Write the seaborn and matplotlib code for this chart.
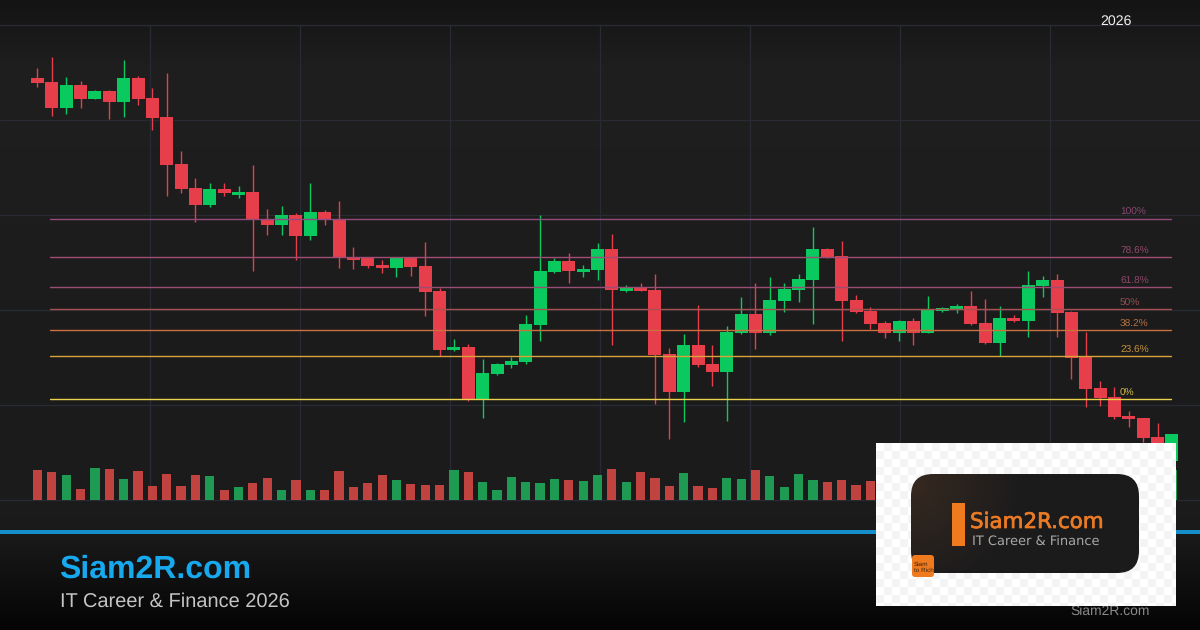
import numpy as np
import pandas as pd
import seaborn as sns
import matplotlib
matplotlib.use("Agg")
import matplotlib.pyplot as plt
import matplotlib.patheffects as pe
from matplotlib.colors import LinearSegmentedColormap
from matplotlib.patches import FancyBboxPatch, Rectangle

# ---- data (price units on an unlabelled scale; volume shares the baseline 0) ----
opens = [422,418,392,415,401,409,398,422,402,383,336,312,295,311,305,308,280,275,285,264,
         288,280,243,242,235,232,242,234,209,150,153,101,126,135,138,175,228,239,228,230,
         251,209,212,210,146,108,155,136,128,167,186,167,199,210,220,251,244,200,189,177,
         167,179,167,189,190,194,177,157,182,179,214,220,188,144,112,103,84,82,63,39]
closes = [417,392,415,401,409,398,422,401,382,335,311,295,311,307,308,280,275,285,264,288,
          280,242,240,234,232,242,233,208,150,153,101,127,136,139,176,229,239,229,231,251,
          210,212,209,145,108,155,135,128,168,186,167,200,211,221,251,242,199,188,176,167,
          179,167,190,192,194,176,157,182,179,215,220,187,142,111,102,83,81,62,50,66]
highs = [432,443,423,419,410,410,440,424,412,427,349,322,317,317,314,335,291,294,287,317,
         290,299,253,243,240,242,242,258,212,161,156,141,137,143,185,285,242,247,235,257,
         266,215,217,226,152,166,195,155,174,203,217,223,217,226,273,252,259,205,193,179,
         180,182,204,193,196,209,201,194,185,229,224,226,189,168,119,113,89,82,77,66]
lows = [413,384,386,392,401,381,383,395,370,304,307,278,293,304,302,229,265,265,240,260,
        275,232,231,232,227,223,224,184,144,149,99,82,125,132,136,159,227,217,223,220,
        155,208,209,96,61,78,133,114,79,166,151,165,188,198,176,242,159,187,171,162,
        159,155,167,188,187,175,156,144,178,163,203,163,121,93,94,81,73,58,45,39]
volumes = [30,28,25,11,32,31,21,29,14,26,14,25,24,10,13,17,22,10,20,10,
           10,29,13,17,25,20,16,15,15,30,28,18,10,23,18,17,21,20,19,25,
           31,18,28,22,14,27,14,12,22,21,30,24,13,26,20,18,20,15,19,20,
           18,22,24,16,14,20,26,18,12,28,17,22,30,32,24,26,18,27,28,30]
fib_names = ["100%", "78.6%", "61.8%", "50%", "38.2%", "23.6%", "0%"]
fib_levels = [281.2, 243.0, 213.0, 191.0, 170.0, 144.0, 101.0]
title = "Siam2R.com"
subtitle = "IT Career & Finance 2026"
year_label = "2026"
logo_sub = "IT Career & Finance"
badge = "Siam\nto Rich"

# ---- style ----
W, H = 1200, 630
UP, DOWN = "#0ac95e", "#e63e4a"
VOL_UP, VOL_DOWN = "#1f9a52", "#c0433f"
GRID = "#282b33"
fib_colors = ["#934a7c", "#a04c74", "#9c4d74", "#aa5050", "#cc7040", "#dca23a", "#ead24c"]
text_colors = ["#8a4872", "#93496c", "#8f4869", "#965050", "#b9703f", "#c6923a", "#d2bc48"]
X0, DX = 37.5, 14.36

sns.set_theme(style="dark")
plt.rcParams["font.family"] = ["Liberation Sans", "DejaVu Sans"]
plt.rcParams["text.hinting"] = "none"

fig = plt.figure(figsize=(W / 100, H / 100), dpi=100)


def full_ax(z):
    a = fig.add_axes([0, 0, 1, 1], zorder=z)
    a.set_facecolor("none")
    a.set_axis_off()
    return a


# background layer in figure pixels
bg = full_ax(0)
stops_y = [0, 25, 70, 300, 515, 534, 630]
stops_v = [0x14, 0x18, 0x1f, 0x1c, 0x1b, 0x1a, 0x04]
g = np.interp(np.arange(H), stops_y, stops_v) / 255
bg.imshow(np.stack([g, g, g * 1.01], axis=-1)[:, None, :].clip(0, 1), extent=(0, W, H, 0), aspect="auto")
for gy in range(25, 501, 95):
    bg.plot([0, W], [gy, gy], color=GRID, lw=0.9)
for gx in range(150, 1200, 150):
    bg.plot([gx, gx], [25, 500], color=GRID, lw=0.9)
bg.set_xlim(0, W)
bg.set_ylim(H, 0)

# chart layer: candle index on x, price on y
ax = full_ax(1)
n = len(opens)
df = pd.DataFrame({"idx": np.arange(n), "open": opens, "close": closes, "high": highs,
                   "low": lows, "volume": volumes})
df["dir"] = np.where(df["close"] >= df["open"], "up", "down")

sns.barplot(data=df, x="idx", y="volume", hue="dir", palette={"up": VOL_UP, "down": VOL_DOWN},
            native_scale=True, dodge=False, width=9.2 / DX, saturation=1, legend=False,
            linewidth=0, edgecolor="none", ax=ax, zorder=2)

colors = df["dir"].map({"up": UP, "down": DOWN})
ax.vlines(df["idx"], df["low"], df["high"], colors=colors, lw=1.0, zorder=3)
ax.bar(df["idx"], (df["close"] - df["open"]).abs(), bottom=df[["open", "close"]].min(axis=1),
       width=13 / DX, color=colors, linewidth=0, zorder=4)


def ix(px):
    return (px - X0) / DX


for name, lvl, lc, tc in zip(fib_names, fib_levels, fib_colors, text_colors):
    ax.plot([ix(50), ix(1171)], [lvl, lvl], color=lc, lw=1.0, zorder=5)
    ax.text(ix(1120), lvl + 3.5, name, color=tc, fontsize=7.3, va="baseline", ha="left", zorder=6)

ax.set_xlim(ix(0), ix(W))
ax.set_ylim(500 - H, 500)
ax.set_axis_off()

# overlay layer in figure pixels
ov = full_ax(2)
ov.add_patch(Rectangle((0, 530), W, 4, color="#1590cc", lw=0))
ov.text(59.5, 578, title, color="#17a8ee", fontsize=23, fontweight="bold", va="baseline")
ov.text(60, 606.5, subtitle, color="#c4c4c4", fontsize=14.4, va="baseline")
ov.text(1100, 25, year_label, color="#f0f0f0", fontsize=10.2, va="baseline")
ov.text(1070, 615, title, color="#8a8a8a", fontsize=10, va="baseline")

# logo card
px0, py0, px1, py1 = 876, 443, 1176, 606
cell = 8
rows, cols = np.indices((py1 - py0, px1 - px0))
chk = (((rows // cell) + (cols // cell)) % 2).astype(float)
cm_chk = LinearSegmentedColormap.from_list("c", ["#ffffff", "#f4f4f4"])
ov.imshow(chk, extent=(px0, px1, py1, py0), cmap=cm_chk, aspect="auto",
          interpolation="nearest", zorder=3)

card = FancyBboxPatch((911 + 22, 474 + 22), 228 - 44, 99 - 44, boxstyle="round,pad=22,rounding_size=22",
                      fc="none", ec="none", zorder=4)
ov.add_patch(card)
xx, yy = np.meshgrid(np.linspace(0, 1, 240), np.linspace(0, 1, 100))
glow = np.clip(1 - np.hypot(xx / 0.5, (yy - 0.1) / 1.1), 0, 1)
base = np.array([0x1b, 0x1b, 0x1c]) / 255
warm = np.array([0x36, 0x29, 0x20]) / 255
rgb = base[None, None, :] + (warm - base)[None, None, :] * glow[..., None]
ov.imshow(rgb, extent=(911, 1139, 573, 474), aspect="auto", zorder=5, clip_path=card)
ov.add_patch(Rectangle((952, 503), 13, 43, color="#f07a1e", lw=0, zorder=6))
ov.text(970, 528, title, color="#ea7a24", fontsize=15.4, family="DejaVu Sans", va="baseline", zorder=6,
        path_effects=[pe.withStroke(linewidth=0.5, foreground="#ea7a24")])
ov.text(972, 546, logo_sub, color="#a8a8a8", fontsize=9.4, family="DejaVu Sans", va="baseline", zorder=6)
ov.add_patch(FancyBboxPatch((915, 558), 16, 16, boxstyle="round,pad=3,rounding_size=3",
                            fc="#f07a1e", ec="none", zorder=6))
ov.text(914, 567, badge, color="#3a2410", fontsize=4.6, va="center", linespacing=1.1, zorder=7)
ov.set_xlim(0, W)
ov.set_ylim(H, 0)
ov.set_axis_off()

fig.savefig("out.png", dpi=100)
